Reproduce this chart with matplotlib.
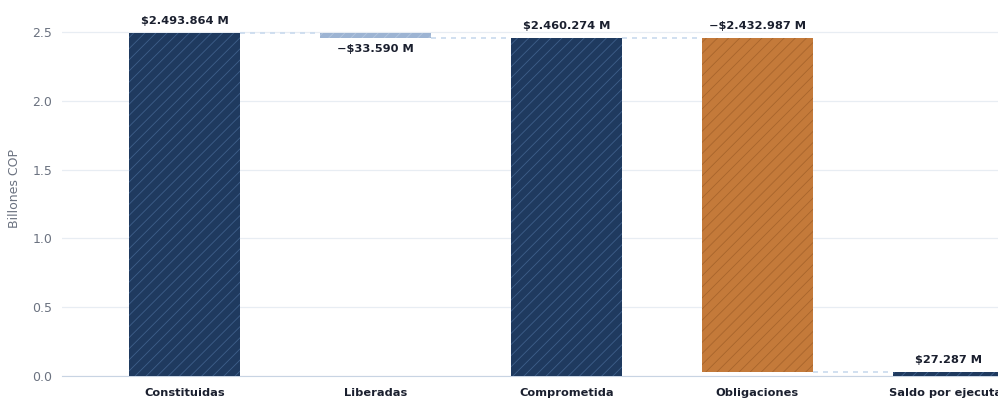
import numpy as np
import matplotlib.pyplot as plt

# Ejecución de reservas presupuestales (billones COP)
categorias = ["Constituidas", "Liberadas", "Comprometida", "Obligaciones", "Saldo por ejecutar"]
valores = [2.493864, -0.033590, 2.460274, -2.432987, 0.027287]
tipos = ["total", "delta", "total", "delta", "total"]
etiquetas = ["$2.493.864 M", "\u2212$33.590 M", "$2.460.274 M", "\u2212$2.432.987 M", "$27.287 M"]
colores = ["#1f3a5f", "#9db4d3", "#1f3a5f", "#c47a3a", "#1f3a5f"]
tramas = ["#3e5f8a", "#b3c6df", "#3e5f8a", "#a8652c", "#3e5f8a"]

plt.rcParams["hatch.linewidth"] = 0.6

fig = plt.figure(figsize=(9.98, 3.98), dpi=100)
ax = fig.add_axes([62 / 998, 22 / 398, 936 / 998, 376 / 398])

x = np.arange(len(categorias))
ancho = 0.58

# bases y alturas de la cascada
bases, alturas = [], []
acum = 0.0
for v, t in zip(valores, tipos):
    if t == "total":
        bases.append(0.0)
        alturas.append(v)
        acum = v
    else:
        bases.append(acum + v if v < 0 else acum)
        alturas.append(abs(v))
        acum = acum + v

ax.bar(x, alturas, bottom=bases, width=ancho, color=colores, edgecolor=tramas,
       linewidth=0, hatch="///", zorder=3)

# conectores punteados entre barras
acum = 0.0
for i, (v, t) in enumerate(zip(valores, tipos)):
    acum = v if t == "total" else acum + v
    if i < len(valores) - 1:
        ax.plot([x[i] + ancho / 2, x[i + 1] - ancho / 2], [acum, acum],
                color="#c9daee", lw=1.2, ls=(0, (3, 3)), zorder=2)

for i, (b, h, v) in enumerate(zip(bases, alturas, valores)):
    if tipos[i] == "delta" and v < 0 and h < 0.1:
        ax.annotate(etiquetas[i], (x[i], b), xytext=(0, -5), textcoords="offset points",
                    ha="center", va="top", fontsize=8.2, fontweight="bold", color="#1a1f2e")
    else:
        ax.annotate(etiquetas[i], (x[i], b + h), xytext=(0, 5), textcoords="offset points",
                    ha="center", va="bottom", fontsize=8.2, fontweight="bold", color="#1a1f2e")

ax.set_xlim(-0.641, 4.26)
ax.set_ylim(0, 2.733)
ax.set_yticks([0, 0.5, 1.0, 1.5, 2.0, 2.5])
ax.set_yticklabels(["0.0", "0.5", "1.0", "1.5", "2.0", "2.5"])
ax.set_xticks(x)
ax.set_xticklabels(categorias, fontsize=8.2, fontweight="bold", color="#1a1f2e")
ax.tick_params(axis="x", length=0, pad=9)
ax.tick_params(axis="y", length=0, labelsize=9, labelcolor="#6b7280", pad=7)
ax.grid(axis="y", color="#e8edf3", lw=0.9, zorder=0)
ax.set_axisbelow(True)
for s in ["top", "right", "left"]:
    ax.spines[s].set_visible(False)
ax.spines["bottom"].set_color("#c8d4e3")
ax.set_ylabel("Billones COP", fontsize=9, color="#6b7280", labelpad=8)

fig.savefig("out.png", dpi=100)
